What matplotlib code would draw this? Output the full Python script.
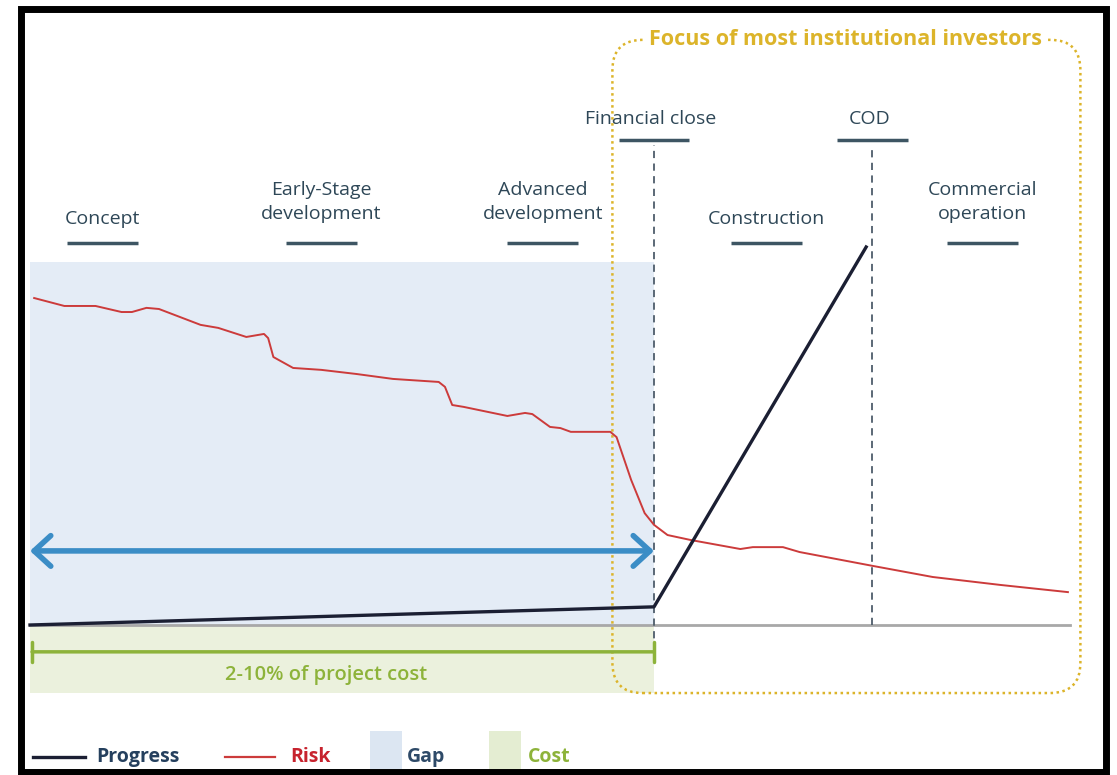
import matplotlib
matplotlib.use("Agg")
import matplotlib.pyplot as plt
from matplotlib.patches import FancyBboxPatch, Rectangle

plt.rcParams['font.family'] = ['Open Sans', 'DejaVu Sans']

# project timeline (x: time 0-100, y: level 0-100)
risk_x = [0.4, 3.3, 6.3, 8.8, 9.8, 11.2, 12.4, 16.4, 18.1, 20.8, 22.5, 22.9, 23.4,
          25.3, 28.0, 31.4, 34.9, 39.3, 39.9, 40.6, 41.7, 45.9, 47.6, 48.3, 50.0,
          51.0, 52.0, 55.8, 56.4, 57.8, 59.1, 60.0, 61.3, 63.5, 68.3, 69.5, 72.4,
          74.0, 81.1, 86.8, 93.3, 99.8]
risk_y = [86.5, 84.4, 84.4, 82.8, 82.8, 83.9, 83.6, 79.4, 78.6, 76.2, 77.0, 75.9, 70.9,
          68.0, 67.5, 66.4, 65.1, 64.3, 63.0, 58.2, 57.7, 55.3, 56.1, 55.8, 52.4,
          52.1, 51.1, 51.1, 49.7, 38.4, 29.6, 26.5, 23.8, 22.5, 20.1, 20.6, 20.6,
          19.3, 15.6, 12.7, 10.6, 8.7]

progress_x = [0, 60, 80.4]
progress_y = [0, 4.8, 100]

stages = ["Concept", "Early-Stage\ndevelopment", "Advanced\ndevelopment",
          "Construction", "Commercial\noperation"]
stage_x = [7.0, 28.0, 49.3, 70.8, 91.6]

milestones = ["Financial close", "COD"]
milestone_x = [60, 81]

gap_end = 60        # gap / cost region ends at financial close
gap_top = 96
cost_bottom = -18
cost_label = "2-10% of project cost"
focus_label = "Focus of most institutional investors"

navy = "#2e4757"
red = "#cc3b3b"
gold = "#dcb42a"
green = "#8db33a"
gap_col = "#e4ecf6"
cost_col = "#ebf1dd"

fig = plt.figure(figsize=(11.17, 7.75), dpi=100)
W, H = 1117, 775
ax = fig.add_axes([30 / W, 150 / H, 1040 / W, 378 / H])
ax.set_xlim(0, 100)
ax.set_ylim(0, 100)
ax.axis('off')

# shaded gap and cost areas
ax.fill_between([0, gap_end], 0, gap_top, color=gap_col, lw=0, zorder=0)
ax.fill_between([0, gap_end], cost_bottom, 0, color=cost_col, lw=0, zorder=0, clip_on=False)

# baseline
ax.plot([0, 100], [0, 0], color="#a8a8a8", lw=2, zorder=2, clip_on=False)

# milestone dashed lines
ax.plot([milestone_x[0]] * 2, [-7, 127], color="#4e5d6b", lw=1.3,
        dashes=(4, 3), zorder=3, clip_on=False)
ax.plot([milestone_x[1]] * 2, [0, 126.5], color="#4e5d6b", lw=1.3,
        dashes=(4, 3), zorder=3, clip_on=False)

# focus box (dotted, rounded)
aspect = (1040 / 100) / (378 / 100)
box = FancyBboxPatch((56, cost_bottom), 101 - 56, 154.8 - cost_bottom,
                     boxstyle="round,pad=0,rounding_size=2.9",
                     mutation_aspect=aspect, fill=False, ec=gold, lw=1.8,
                     ls=(0, (1, 1.4)), zorder=4, clip_on=False)
ax.add_patch(box)
ax.text(78.4, 154.8, focus_label, ha='center', va='center', fontsize=15.5,
        fontweight='bold', color=gold, zorder=5, clip_on=False,
        bbox=dict(fc='white', ec='none', pad=2))

# risk and progress
ax.plot(risk_x, risk_y, color=red, lw=1.4, zorder=6, clip_on=False)
ax.plot(progress_x, progress_y, color="#1b1f33", lw=2.4, zorder=7, clip_on=False)

# gap arrow and cost bracket
ax.annotate('', xy=(0, 19.6), xytext=(gap_end, 19.6),
            arrowprops=dict(arrowstyle='<->,head_length=0.6,head_width=0.55',
                            lw=4, color="#3b8dc6", shrinkA=0, shrinkB=0,
                            mutation_scale=20), zorder=8, annotation_clip=False)
ax.annotate('', xy=(0.2, -7.1), xytext=(gap_end, -7.1),
            arrowprops=dict(arrowstyle='|-|,widthA=0.35,widthB=0.35',
                            lw=2.5, color=green, shrinkA=0, shrinkB=0,
                            mutation_scale=20), zorder=8, annotation_clip=False)
ax.text(28.5, -13.2, cost_label, ha='center', va='center', fontsize=14.5,
        fontweight='semibold', color=green, clip_on=False)

# stage labels with underlines
for name, x in zip(stages, stage_x):
    y = 111.9 if "\n" in name else 107.4
    ax.text(x, y, name, ha='center', va='center', fontsize=14,
            color=navy, linespacing=1.45, clip_on=False)
    ax.plot([x - 3.4, x + 3.4], [101, 101], color="#3d5563", lw=2.5,
            solid_capstyle='butt', clip_on=False)

for name, x in zip(milestones, milestone_x):
    ax.text(x - 0.3, 133.9, name, ha='center', va='center', fontsize=14,
            color=navy, clip_on=False)
    ax.plot([x - 3.4, x + 3.4], [128.4, 128.4], color="#3d5563", lw=2.5,
            solid_capstyle='butt', clip_on=False)

# legend and frame drawn in pixel space
ov = fig.add_axes([0, 0, 1, 1], zorder=10)
ov.set_xlim(0, W)
ov.set_ylim(H, 0)
ov.axis('off')
ov.patch.set_alpha(0)

ov.plot([33, 85], [757, 757], color="#1b1f33", lw=2.4)
ov.text(96, 757, "Progress", va='center', fontsize=14, fontweight='bold', color="#25405e")
ov.plot([225, 275], [757, 757], color=red, lw=1.6)
ov.text(290, 757, "Risk", va='center', fontsize=14, fontweight='bold', color="#c7232e")
ov.add_patch(Rectangle((370, 731), 32, 44, color="#dce6f2", lw=0))
ov.text(407, 757, "Gap", va='center', fontsize=14, fontweight='bold', color="#2e4a68")
ov.add_patch(Rectangle((489, 731), 32, 44, color="#e4edd2", lw=0))
ov.text(528, 757, "Cost", va='center', fontsize=14, fontweight='bold', color=green)

ov.add_patch(Rectangle((20.5, 9), 1085.5, 763, fill=False, ec='black', lw=5))

fig.savefig("out.png", dpi=100)
